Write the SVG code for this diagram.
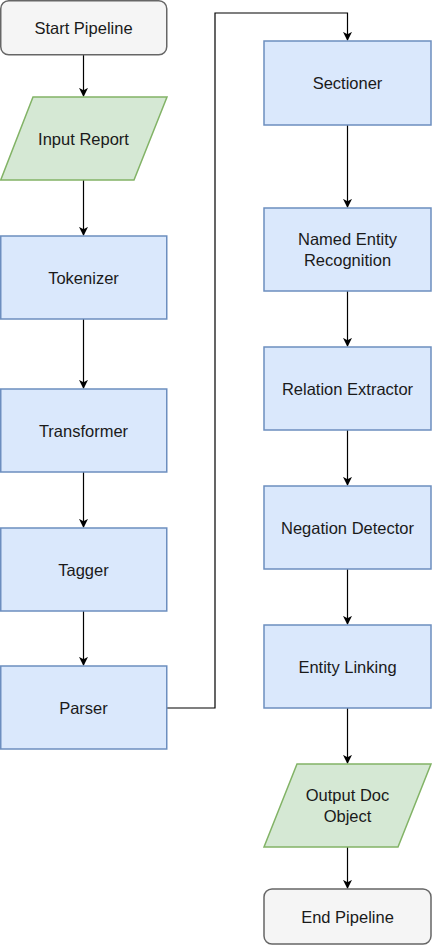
<svg xmlns="http://www.w3.org/2000/svg" width="432" height="946" viewBox="0 0 432 946">
<style>
.term{fill:#f5f5f5;stroke:#666666;stroke-width:1.5}
.proc{fill:#dae8fc;stroke:#6c8ebf;stroke-width:1.5}
.io{fill:#d5e8d4;stroke:#82b366;stroke-width:1.5}
.lbl{font-family:"Liberation Sans",Arial,sans-serif;font-size:16.5px;fill:#1a1a1a;text-anchor:middle;dominant-baseline:central}
.edge{fill:none;stroke:#000;stroke-width:1.2}
</style>
<defs>
<marker id="arr" viewBox="0 0 10 10" refX="9" refY="5" markerWidth="9" markerHeight="9" markerUnits="userSpaceOnUse" orient="auto">
<path d="M0,0 L10,5 L0,10 L2.5,5 Z" fill="#000"/>
</marker>
</defs>
<rect width="432" height="946" fill="#fff"/>
<g id="connectors">
<path class="edge" d="M83.5,55 V96" marker-end="url(#arr)"/>
<path class="edge" d="M83.5,180 V235" marker-end="url(#arr)"/>
<path class="edge" d="M83.5,319 V388" marker-end="url(#arr)"/>
<path class="edge" d="M83.5,472 V527" marker-end="url(#arr)"/>
<path class="edge" d="M83.5,611 V665" marker-end="url(#arr)"/>
<path class="edge" d="M167,708 H215 V13 H347.5 V40" marker-end="url(#arr)"/>
<path class="edge" d="M347.5,125 V207" marker-end="url(#arr)"/>
<path class="edge" d="M347.5,291 V346" marker-end="url(#arr)"/>
<path class="edge" d="M347.5,430 V485" marker-end="url(#arr)"/>
<path class="edge" d="M347.5,569 V624" marker-end="url(#arr)"/>
<path class="edge" d="M347.5,708 V763" marker-end="url(#arr)"/>
<path class="edge" d="M347.5,847 V888" marker-end="url(#arr)"/>
</g>
<g id="start"><rect class="term" x="0.75" y="0.75" width="166" height="54" rx="8"/><text class="lbl" x="83.5" y="28">Start Pipeline</text></g>
<g id="input"><polygon class="io" points="33,97 167,97 134,180 0.75,180"/><text class="lbl" x="83.5" y="139">Input Report</text></g>
<g id="tokenizer"><rect class="proc" x="0.75" y="236" width="166" height="83"/><text class="lbl" x="83.5" y="278">Tokenizer</text></g>
<g id="transformer"><rect class="proc" x="0.75" y="389" width="166" height="83"/><text class="lbl" x="83.5" y="431">Transformer</text></g>
<g id="tagger"><rect class="proc" x="0.75" y="528" width="166" height="83"/><text class="lbl" x="83.5" y="570">Tagger</text></g>
<g id="parser"><rect class="proc" x="0.75" y="666" width="166" height="83"/><text class="lbl" x="83.5" y="708">Parser</text></g>
<g id="sectioner"><rect class="proc" x="264" y="41" width="167" height="84"/><text class="lbl" x="347.5" y="83">Sectioner</text></g>
<g id="ner"><rect class="proc" x="264" y="208" width="167" height="83"/><text class="lbl" x="347.5" y="239">Named Entity</text><text class="lbl" x="347.5" y="260">Recognition</text></g>
<g id="relation"><rect class="proc" x="264" y="347" width="167" height="83"/><text class="lbl" x="347.5" y="389">Relation Extractor</text></g>
<g id="negation"><rect class="proc" x="264" y="486" width="167" height="83"/><text class="lbl" x="347.5" y="528">Negation Detector</text></g>
<g id="linking"><rect class="proc" x="264" y="625" width="167" height="83"/><text class="lbl" x="347.5" y="667">Entity Linking</text></g>
<g id="output"><polygon class="io" points="297,764 431,764 398,847 264,847"/><text class="lbl" x="347.5" y="795">Output Doc</text><text class="lbl" x="347.5" y="816">Object</text></g>
<g id="end"><rect class="term" x="264" y="889" width="167" height="55" rx="8"/><text class="lbl" x="347.5" y="917">End Pipeline</text></g>
</svg>
